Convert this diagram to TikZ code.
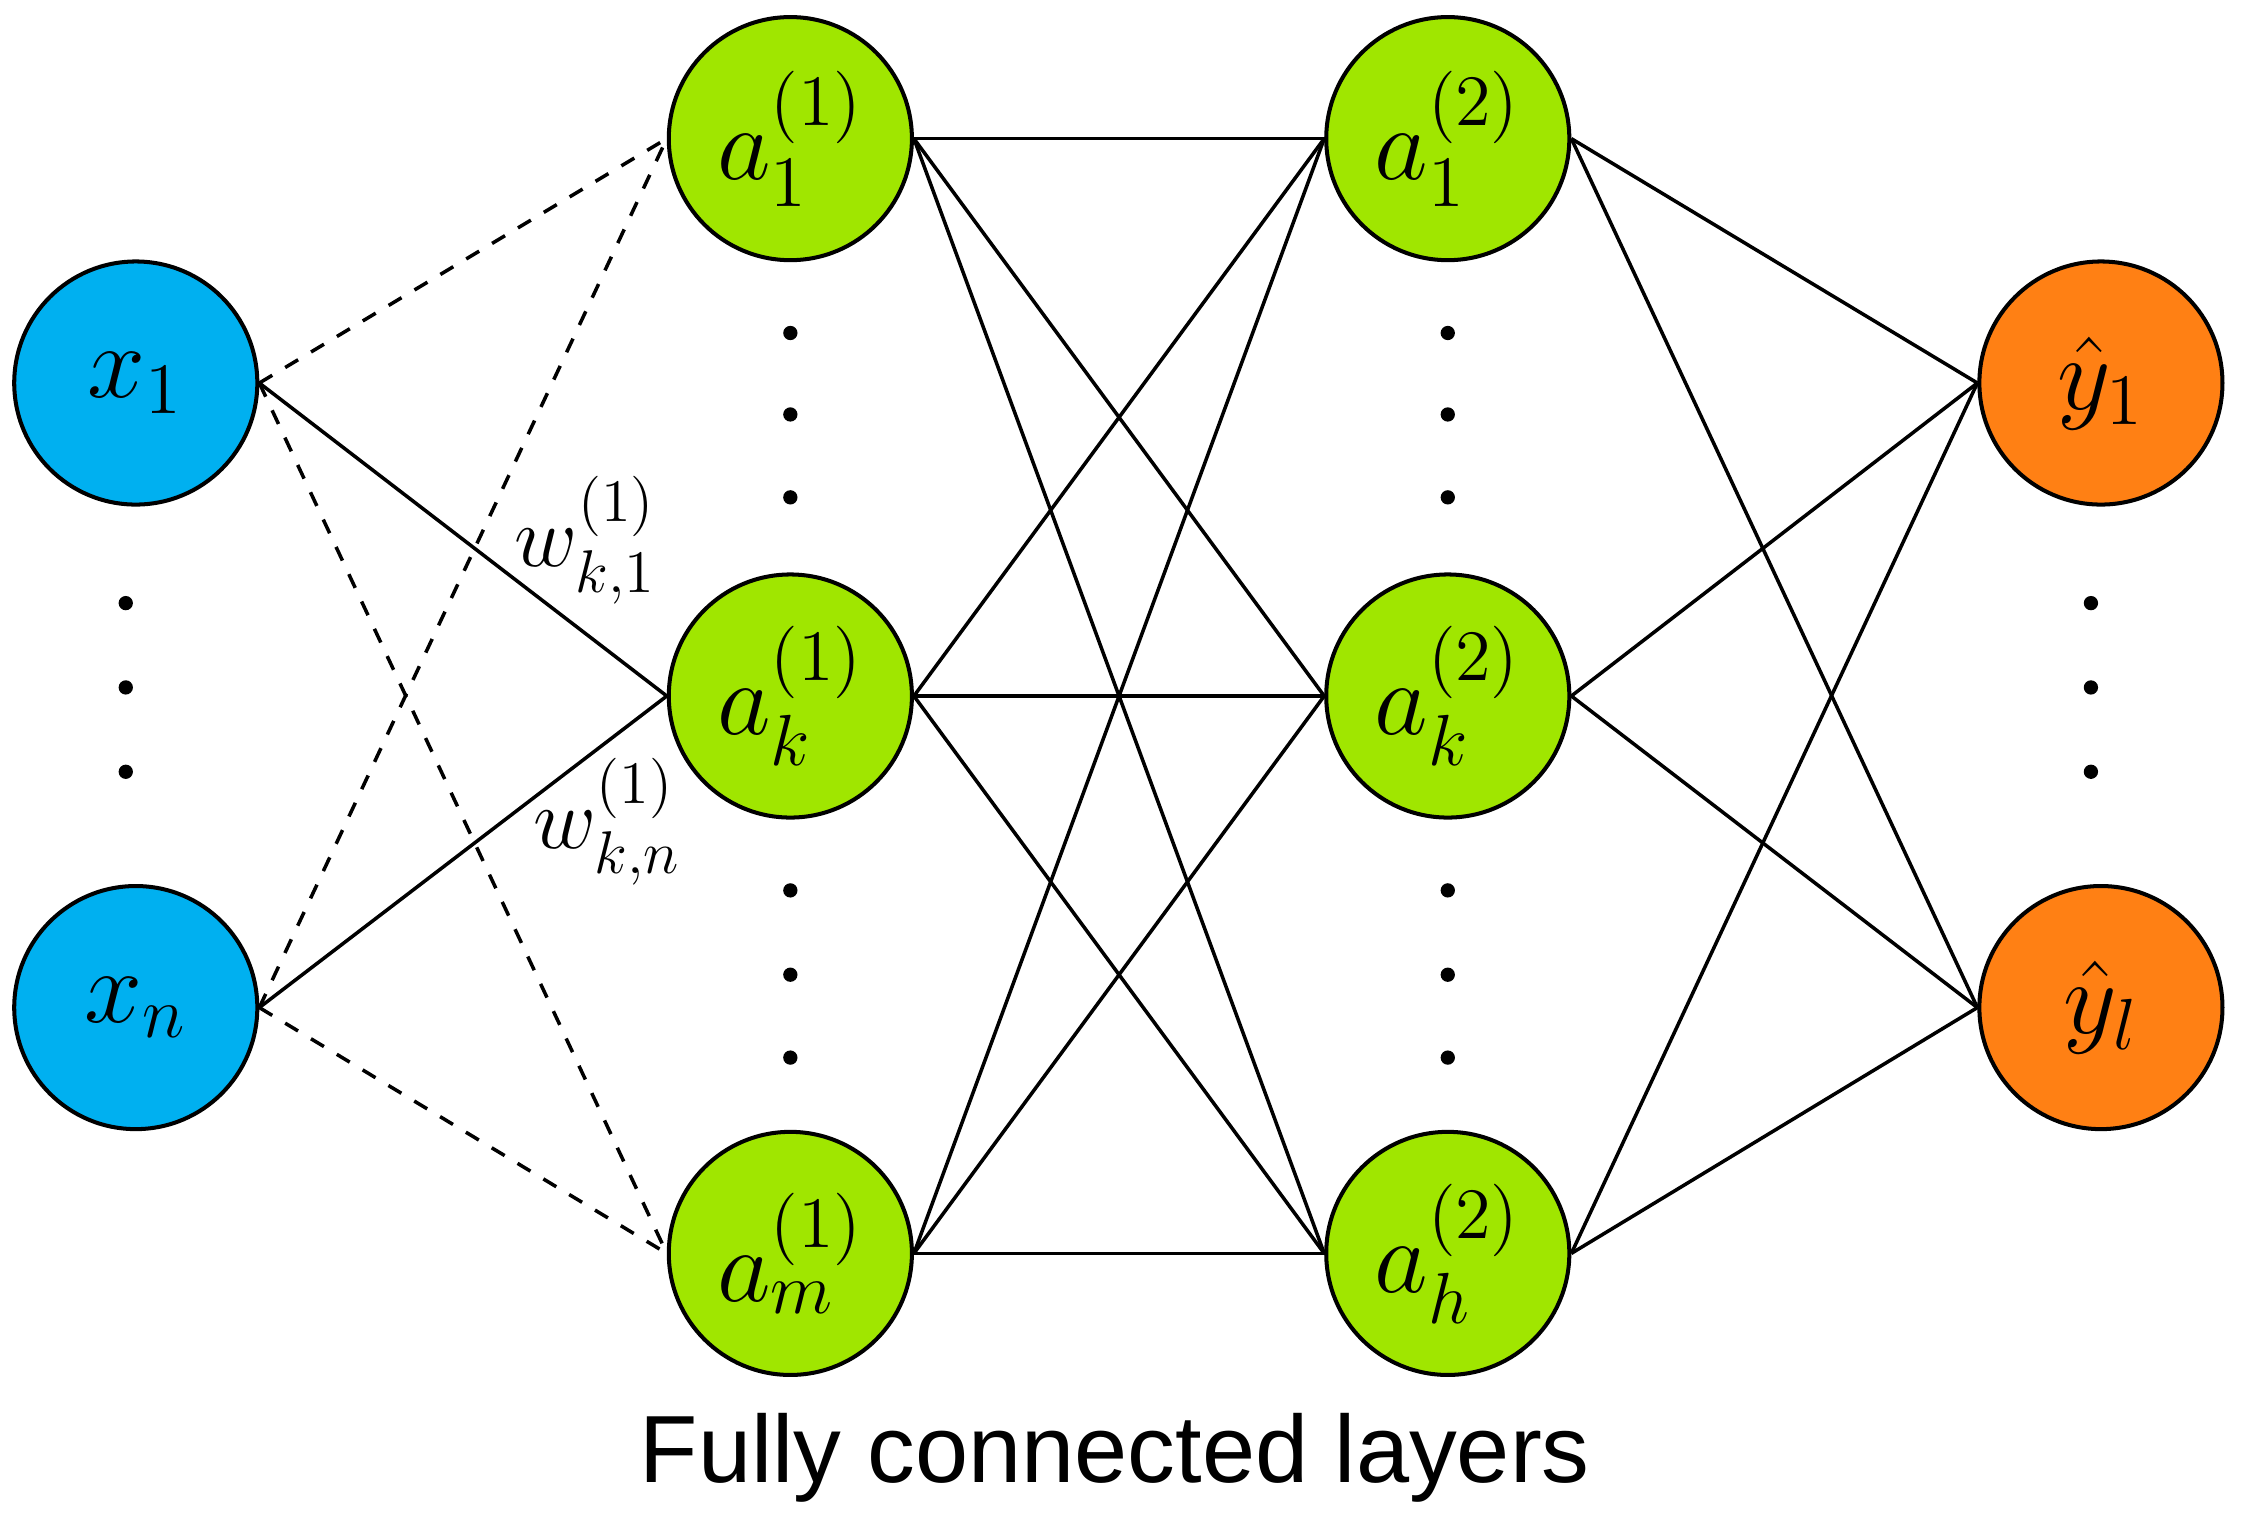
\documentclass[tikz,border=0pt]{standalone}
\usepackage{fontspec}
\setmainfont{Liberation Sans}
\usepackage{amsmath}
\definecolor{cin}{RGB}{0,176,240}
\definecolor{chid}{RGB}{160,230,0}
\definecolor{cout}{RGB}{255,128,20}
\begin{document}
\begin{tikzpicture}[x=0.01cm,y=-0.01cm,
  neuron/.style={circle,draw=black,line width=0.8pt,minimum size=1.7cm,inner sep=0pt,font=\fontsize{22}{26}\selectfont},
  inp/.style={neuron,fill=cin},
  hid/.style={neuron,fill=chid},
  outp/.style={neuron,fill=cout},
  edge/.style={line width=0.7pt},
  dedge/.style={edge,dashed},
  dot/.style={circle,fill=black,inner sep=0pt,minimum size=0.1cm},
  wlab/.style={font=\fontsize{18}{22}\selectfont}]
\useasboundingbox (0,0) rectangle (1568,1067);
\node[inp] (x1) at (95,268) {$x_1$};
\node[inp] (xn) at (95,705) {$x_n$};
\node[hid] (a1) at (553,97) {$a_1^{(1)}$};
\node[hid] (ak) at (553,487) {$a_k^{(1)}$};
\node[hid] (am) at (553,877) {$a_m^{(1)}$};
\node[hid] (b1) at (1013,97) {$a_1^{(2)}$};
\node[hid] (bk) at (1013,487) {$a_k^{(2)}$};
\node[hid] (bh) at (1013,877) {$a_h^{(2)}$};
\node[outp] (y1) at (1470,268) {$\hat{y}_1$};
\node[outp] (yl) at (1470,705) {$\hat{y}_l$};
\draw[dedge] (x1.east) -- (a1.west);
\draw[dedge] (x1.east) -- (am.west);
\draw[dedge] (xn.east) -- (a1.west);
\draw[dedge] (xn.east) -- (am.west);
\draw[edge] (x1.east) -- (ak.west);
\draw[edge] (xn.east) -- (ak.west);
\foreach \s in {a1,ak,am}{\foreach \t in {b1,bk,bh}{\draw[edge] (\s.east) -- (\t.west);}}
\foreach \s in {b1,bk,bh}{\foreach \t in {y1,yl}{\draw[edge] (\s.east) -- (\t.west);}}
\node[wlab] (w1) at (410,378) {$w_{k,1}^{(1)}$};
\node[wlab] (wn) at (425,575) {$w_{k,n}^{(1)}$};
\foreach \y [count=\i] in {422,481,540}{\node[dot] (dx\i) at (88,\y) {}; \node[dot] (dy\i) at (1463,\y) {};}
\foreach \y [count=\i] in {233,290,348,623,682,740}{\node[dot] (da\i) at (553,\y) {}; \node[dot] (db\i) at (1013,\y) {};}
\node[font=\fontsize{19}{23}\selectfont] (title) at (780,1020) {Fully connected layers};
\end{tikzpicture}
\end{document}
